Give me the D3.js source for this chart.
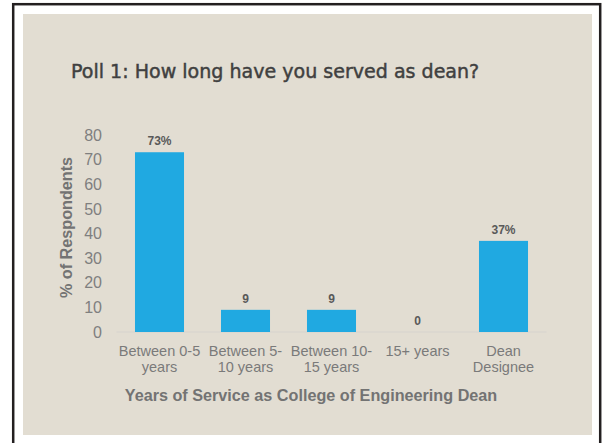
<!DOCTYPE html>
<html>
<head>
<meta charset="utf-8">
<script src="https://cdn.jsdelivr.net/npm/d3@7"></script>
<style>
  html, body { margin: 0; padding: 0; background: #ffffff; }
  svg { display: block; }
</style>
</head>
<body>
<svg id="chart" width="602" height="443"></svg>
<script>
// Poll results
const categories = [
  ["Between 0-5", "years"],
  ["Between 5-", "10 years"],
  ["Between 10-", "15 years"],
  ["15+ years"],
  ["Dean", "Designee"]
];
const values = [73, 9, 9, 0, 37];
const valueLabels = ["73%", "9", "9", "0", "37%"];
const yTicks = [0, 10, 20, 30, 40, 50, 60, 70, 80];

const title = "Poll 1: How long have you served as dean?";
const xTitle = "Years of Service as College of Engineering Dean";
const yTitle = "% of Respondents";

const svg = d3.select("#chart");

// frame and panel
svg.append("rect")
  .attr("x", 13.2).attr("y", 4.2)
  .attr("width", 587).attr("height", 460)
  .attr("fill", "none")
  .attr("stroke", "#231f20")
  .attr("stroke-width", 2.5);

svg.append("rect")
  .attr("x", 23).attr("y", 14)
  .attr("width", 569).attr("height", 421)
  .attr("fill", "#e2ddd2");

// scales
const x = d3.scaleBand()
  .domain(d3.range(categories.length))
  .range([116.5, 546.5])
  .paddingInner(0.43)
  .paddingOuter(0.215);

const y = d3.scaleLinear()
  .domain([0, 80])
  .range([332, 135]);

// title, stretched to its set width, with a light stroke for a medium weight
const titleText = svg.append("text")
  .attr("x", 71).attr("y", 78)
  .attr("font-family", "'DejaVu Sans', sans-serif")
  .attr("font-size", 18.3)
  .attr("fill", "#404040")
  .attr("stroke", "#404040")
  .attr("stroke-width", 0.45)
  .text(title);
const tw = titleText.node().getComputedTextLength();
titleText.attr("font-size", 18.3 * 408 / tw);

// y axis (labels only)
const yAxis = d3.axisLeft(y).tickValues(yTicks).tickSize(0).tickPadding(0);
const gy = svg.append("g")
  .attr("transform", "translate(102,0)")
  .call(yAxis);
gy.select(".domain").remove();
gy.selectAll("text")
  .attr("font-family", "'Liberation Sans', Arial, sans-serif")
  .attr("font-size", 16)
  .attr("fill", "#7f7f7f");

// baseline
svg.append("line")
  .attr("x1", x.range()[0]).attr("x2", x.range()[1])
  .attr("y1", y(0)).attr("y2", y(0))
  .attr("stroke", "#d6d3cd")
  .attr("stroke-width", 1.2);

// bars
svg.append("g").selectAll("rect")
  .data(values)
  .join("rect")
  .attr("x", (d, i) => x(i))
  .attr("y", d => y(d))
  .attr("width", x.bandwidth())
  .attr("height", d => y(0) - y(d))
  .attr("fill", "#20a9e1");

// value labels
svg.append("g").selectAll("text")
  .data(values)
  .join("text")
  .attr("x", (d, i) => x(i) + x.bandwidth() / 2)
  .attr("y", d => y(d) - 7)
  .attr("text-anchor", "middle")
  .attr("font-family", "'Liberation Sans', Arial, sans-serif")
  .attr("font-weight", "bold")
  .attr("font-size", 12)
  .attr("fill", "#595959")
  .text((d, i) => valueLabels[i]);

// category labels
const xl = svg.append("g").selectAll("text")
  .data(categories)
  .join("text")
  .attr("x", (d, i) => x(i) + x.bandwidth() / 2)
  .attr("y", 355.5)
  .attr("text-anchor", "middle")
  .attr("font-family", "'Liberation Sans', Arial, sans-serif")
  .attr("font-size", 14.5)
  .attr("fill", "#7a7a7a");
xl.each(function (lines) {
  const t = d3.select(this);
  lines.forEach((ln, k) => {
    t.append("tspan")
      .attr("x", t.attr("x"))
      .attr("dy", k === 0 ? 0 : 16.7)
      .text(ln);
  });
});

// axis titles
svg.append("text")
  .attr("x", 311).attr("y", 400.5)
  .attr("text-anchor", "middle")
  .attr("font-family", "'Liberation Sans', Arial, sans-serif")
  .attr("font-weight", "bold")
  .attr("font-size", 16.2)
  .attr("fill", "#737373")
  .text(xTitle);

svg.append("text")
  .attr("transform", "translate(72,227.5) rotate(-90)")
  .attr("text-anchor", "middle")
  .attr("font-family", "'Liberation Sans', Arial, sans-serif")
  .attr("font-weight", "bold")
  .attr("font-size", 16.2)
  .attr("fill", "#737373")
  .text(yTitle);
</script>
</body>
</html>
